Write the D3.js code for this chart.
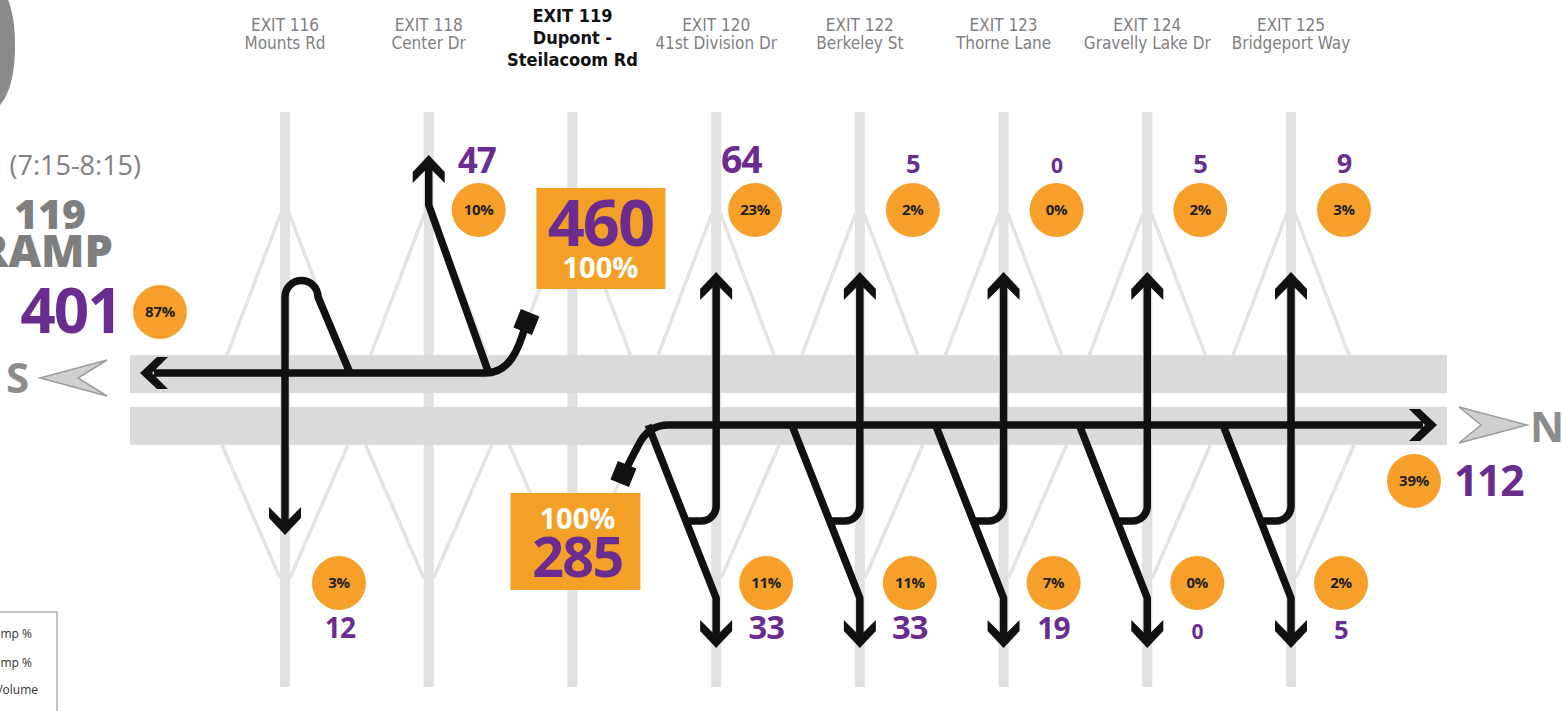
<!DOCTYPE html>
<html>
<head>
<meta charset="utf-8">
<script src="https://cdn.jsdelivr.net/npm/d3@7"></script>
<style>
body { margin: 0; background: #fff; }
svg { display: block; }
</style>
</head>
<body>
<svg></svg>
<script>
// exits along the corridor (south -> north)
var exits = ["116", "118", "119", "120", "122", "123", "124", "125"];
var roads = ["Mounts Rd", "Center Dr", "Dupont - Steilacoom Rd", "41st Division Dr",
             "Berkeley St", "Thorne Lane", "Gravelly Lake Dr", "Bridgeport Way"];

// southbound on-ramp at exit 119
var sbTotal = 460;
var sbExits = ["116", "118"];
var sbVol = [12, 47];
var sbPct = [3, 10];
var sbThruVol = 401, sbThruPct = 87;

// northbound on-ramp at exit 119
var nbTotal = 285;
var nbExits = ["120", "122", "123", "124", "125"];
var nbUpVol = [64, 5, 0, 5, 9];
var nbUpPct = [23, 2, 0, 2, 3];
var nbDownVol = [33, 33, 19, 0, 5];
var nbDownPct = [11, 11, 7, 0, 2];
var nbThruVol = 112, nbThruPct = 39;

var width = 1563, height = 711;
var purple = "#6a2c8f", orange = "#f6a02b", grayText = "#808080";
var numFont = "'Open Sans', 'Noto Sans', sans-serif";
var narrow = "'Liberation Sans Narrow', 'DejaVu Sans Condensed', 'Roboto', sans-serif";

var svg = d3.select("svg").attr("width", width).attr("height", height);

var x = d3.scalePoint().domain(exits).range([285, 1291]);
var fontScale = d3.scaleSqrt().domain([0, 401]).range([21, 62]);

// layout levels
var L = {
  streetTop: 112, streetBot: 687, forkTop: 213, forkBot: 578,
  band1: 355, band2: 407, bandH: 38, bandX0: 130, bandX1: 1447,
  sb: 373, nb: 425
};

// ---- background roads ----
var bg = svg.append("g");
exits.forEach(function(e){
  var xe = x(e);
  var segs = [
    [xe - 58, L.band1, xe - 4, L.forkTop], [xe + 58, L.band1, xe + 4, L.forkTop],
    [xe - 63, L.band2 + L.bandH, xe - 5, L.forkBot], [xe + 63, L.band2 + L.bandH, xe + 5, L.forkBot]
  ];
  segs.forEach(function(s){
    bg.append("line").attr("x1", s[0]).attr("y1", s[1]).attr("x2", s[2]).attr("y2", s[3])
      .attr("stroke", "#e3e3e3").attr("stroke-width", 3.5);
  });
});
bg.selectAll("line.street").data(exits).join("line").attr("class", "street")
  .attr("x1", function(d){ return x(d); }).attr("x2", function(d){ return x(d); })
  .attr("y1", L.streetTop).attr("y2", L.streetBot)
  .attr("stroke", "#e1e1e1").attr("stroke-width", 10);
[L.band1, L.band2].forEach(function(y){
  bg.append("rect").attr("x", L.bandX0).attr("y", y).attr("width", L.bandX1 - L.bandX0)
    .attr("height", L.bandH).attr("fill", "#dadada");
});

// ---- flow lines ----
var x119 = x("119");
var leftTip = 140, rightTip = 1437;
var p = d3.path();

// southbound
p.moveTo(x119 - 46, L.sb - 51);
p.bezierCurveTo(x119 - 54, L.sb - 21, x119 - 64, L.sb, x119 - 87, L.sb);
p.lineTo(leftTip + 14, L.sb);
// exit 118 (up)
var x118 = x("118");
p.moveTo(x118 + 60, L.sb);
p.lineTo(x118, 205);
p.lineTo(x118, 155 + 12);
// exit 116 (hairpin, down)
var x116 = x("116");
p.moveTo(x116 + 65, L.sb);
p.lineTo(x116 + 33, 297);
p.arc(x116 + 16.5, 297, 16.5, 0, Math.PI, true);
p.lineTo(x116, 535 - 12);

// northbound
p.moveTo(x119 + 51, L.nb + 49);
p.lineTo(x119 + 66, L.nb + 20);
p.quadraticCurveTo(x119 + 76, L.nb, x119 + 96, L.nb);
p.lineTo(rightTip - 14, L.nb);
var downTip = 648, upTip = 272, hookY = 521, diagBot = 598;
nbExits.forEach(function(e){
  var xe = x(e);
  p.moveTo(xe - 68, L.nb);
  p.lineTo(xe, diagBot);
  p.lineTo(xe, downTip - 12);
  var xd = xe - 68 + 68 * (hookY - L.nb) / (diagBot - L.nb);
  p.moveTo(xd, hookY);
  p.lineTo(xe - 15, hookY);
  p.arc(xe - 15, hookY - 15, 15, Math.PI / 2, 0, true);
  p.lineTo(xe, upTip + 12);
});

svg.append("path").attr("d", p.toString())
  .attr("fill", "none").attr("stroke", "#111").attr("stroke-width", 7.5)
  .attr("stroke-linejoin", "round");

// arrowheads
var heads = [
  [leftTip, L.sb, -90], [x118, 155, 0], [x116, 535, 180], [rightTip, L.nb, 90]
];
nbExits.forEach(function(e){
  heads.push([x(e), upTip, 0]);
  heads.push([x(e), downTip, 180]);
});
svg.selectAll("path.head").data(heads).join("path").attr("class", "head")
  .attr("d", "M0,0L16,17L16,28L0,12L-16,28L-16,17Z")
  .attr("transform", function(d){ return "translate(" + d[0] + "," + d[1] + ") rotate(" + d[2] + ")"; })
  .attr("fill", "#111");

// ramp start squares
[[x119 - 46, L.sb - 51], [x119 + 51, L.nb + 49]].forEach(function(s){
  svg.append("rect").attr("x", -10).attr("y", -10).attr("width", 20).attr("height", 20)
    .attr("transform", "translate(" + s[0] + "," + s[1] + ") rotate(22)")
    .attr("fill", "#111");
});

// ---- labels ----
function pctCircle(cx, cy, pct){
  svg.append("circle").attr("cx", cx).attr("cy", cy).attr("r", 27).attr("fill", orange);
  svg.append("text").attr("x", cx).attr("y", cy + 5).attr("text-anchor", "middle")
    .attr("font-family", numFont).attr("font-weight", 700).attr("font-size", 15)
    .attr("letter-spacing", "-0.02em")
    .attr("fill", "#231f20").text(pct + "%");
}
function volText(tx, ty, v, anchor){
  svg.append("text").attr("x", tx).attr("y", ty).attr("text-anchor", anchor || "middle")
    .attr("font-family", numFont).attr("font-weight", 700)
    .attr("font-size", fontScale(v)).attr("letter-spacing", "-0.03em")
    .attr("fill", purple).text(v);
}

// southbound exits
volText(x118 + 48, 173, sbVol[1]);
pctCircle(x118 + 50, 210, sbPct[1]);
pctCircle(x116 + 54, 583, sbPct[0]);
volText(x116 + 55, 638, sbVol[0]);

// northbound exits
nbExits.forEach(function(e, i){
  var xe = x(e);
  var dc = i === 0 ? 39 : 53, dn = i === 0 ? 25 : 53;
  volText(xe + dn, 173, nbUpVol[i]);
  pctCircle(xe + dc, 210, nbUpPct[i]);
  pctCircle(xe + 50, 583, nbDownPct[i]);
  volText(xe + 50, 639, nbDownVol[i]);
});

// through volumes
volText(121, 333, sbThruVol, "end");
pctCircle(160, 312, sbThruPct);
pctCircle(1414, 481, nbThruPct);
volText(1454, 496, nbThruVol, "start");

// on-ramp totals
svg.append("rect").attr("x", x119 - 36).attr("y", 188).attr("width", 129).attr("height", 101).attr("fill", "#f4a027");
volText(x119 + 28, 246, sbTotal);
svg.append("text").attr("x", x119 + 28).attr("y", 278).attr("text-anchor", "middle")
  .attr("font-family", numFont).attr("font-weight", 700).attr("font-size", 29)
  .attr("fill", "#fff").text("100%");

svg.append("rect").attr("x", x119 - 62).attr("y", 493).attr("width", 130).attr("height", 97).attr("fill", "#f4a027");
svg.append("text").attr("x", x119 + 5).attr("y", 529).attr("text-anchor", "middle")
  .attr("font-family", numFont).attr("font-weight", 700).attr("font-size", 29)
  .attr("fill", "#fff").text("100%");
volText(x119 + 5, 577, nbTotal);

// exit headers
var hdr = svg.append("g");
exits.forEach(function(e, i){
  var xe = x(e);
  if (e === "119") {
    var parts = roads[i].split(" - ");
    var lines = ["EXIT " + e, parts[0] + " -", parts[1]];
    lines.forEach(function(t, k){
      hdr.append("text").attr("x", xe).attr("y", 22 + k * 22).attr("text-anchor", "middle")
        .attr("font-family", narrow).attr("font-weight", 700).attr("font-size", 18)
        .attr("fill", "#111").text(t);
    });
  } else {
    hdr.append("text").attr("x", xe).attr("y", 31).attr("text-anchor", "middle")
      .attr("font-family", narrow).attr("font-size", 17).attr("fill", grayText).text("EXIT " + e);
    hdr.append("text").attr("x", xe).attr("y", 49).attr("text-anchor", "middle")
      .attr("font-family", narrow).attr("font-size", 17).attr("fill", grayText).text(roads[i]);
  }
});

// title fragments on the left edge
svg.append("text").attr("x", 24).attr("y", 118).attr("text-anchor", "end")
  .attr("font-family", numFont).attr("font-weight", 600).attr("font-size", 205).attr("fill", "#8a8a8a").text("0");
svg.append("text").attr("x", 141).attr("y", 175).attr("text-anchor", "end")
  .attr("font-family", numFont).attr("font-size", 27).attr("fill", grayText).text("(7:15-8:15)");
svg.append("text").attr("x", 86).attr("y", 229).attr("text-anchor", "end")
  .attr("font-family", numFont).attr("font-weight", 800).attr("font-size", 41).attr("fill", "#7f7f7f").text("119");
svg.append("text").attr("x", 113).attr("y", 267).attr("text-anchor", "end")
  .attr("font-family", numFont).attr("font-weight", 800).attr("font-size", 45).attr("fill", "#7f7f7f").text("RAMP");

// direction markers
svg.append("text").attr("x", 6).attr("y", 393).attr("font-family", numFont).attr("font-weight", 700)
  .attr("font-size", 42).attr("fill", "#8c8c8c").text("S");
svg.append("path").attr("d", "M40,378L107,360L78,378L107,396Z")
  .attr("fill", "#cfcfcf").attr("stroke", "#9c9c9c").attr("stroke-width", 1.5);
svg.append("path").attr("d", "M1527,425L1459,407L1481,425L1459,443Z")
  .attr("fill", "#cfcfcf").attr("stroke", "#9c9c9c").attr("stroke-width", 1.5);
svg.append("text").attr("x", 1530).attr("y", 442).attr("font-family", numFont).attr("font-weight", 700)
  .attr("font-size", 42).attr("fill", "#8c8c8c").text("N");

// legend (cut by the left edge)
var lg = svg.append("g");
lg.append("rect").attr("x", -5).attr("y", 612).attr("width", 62).attr("height", 110)
  .attr("fill", "#fff").attr("stroke", "#999").attr("stroke-width", 1.2);
[["Off-Ramp %", 32, 638], ["On-Ramp %", 32, 667], ["Volume", 38, 694]].forEach(function(d){
  lg.append("text").attr("x", d[1]).attr("y", d[2]).attr("text-anchor", "end")
    .attr("font-family", numFont).attr("font-size", 12).attr("fill", "#333").text(d[0]);
});
</script>
</body>
</html>
